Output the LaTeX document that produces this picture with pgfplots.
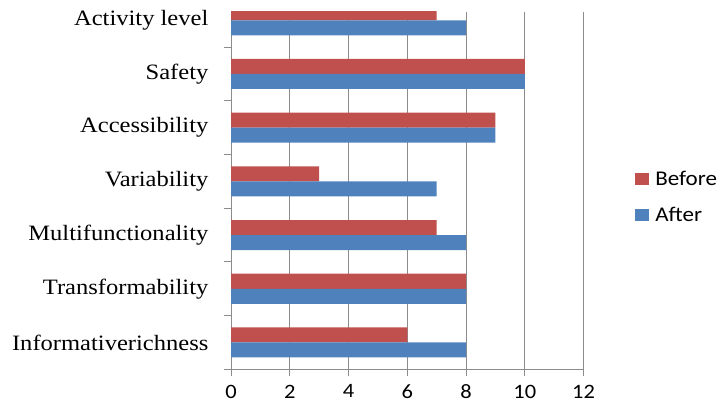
\documentclass[border=0pt]{standalone}
\usepackage{pgfplots}
\pgfplotsset{compat=1.18}
\usepackage{fontspec}
\setmainfont{Liberation Serif}
\newfontfamily\calib{Carlito}
\definecolor{bred}{HTML}{C0504D}
\definecolor{bblue}{HTML}{4F81BD}
\definecolor{gridg}{HTML}{8C8C8C}
\begin{document}
\begin{tikzpicture}
\useasboundingbox (0,0) rectangle (719bp,405bp);
\begin{axis}[
  at={(231bp,35.7bp)}, anchor=south west,
  scale only axis, width=352.5bp, height=357.3bp,
  xmin=0, xmax=12, ymin=-0.5, ymax=6.154,
  axis x line*=bottom, axis y line*=left,
  axis line style={gridg, line width=0.9bp, -},
  xtick={0,2,...,12},
  xmajorgrids, major grid style={gridg, line width=0.9bp},
  ytick={-0.5,0.5,...,5.5},
  yticklabels={},
  extra y ticks={0,...,6},
  extra y tick labels={Informativerichness,Transformability,Multifunctionality,Variability,Accessibility,Safety,Activity level},
  extra y tick style={major tick length=0pt, tick style={draw=none}},
  major tick length=7bp,
  tick style={gridg, line width=0.9bp},
  tick align=outside,
  yticklabel style={font=\fontsize{22}{24}\selectfont, xscale=1.12, inner xsep=0pt, xshift=-20bp, anchor=east},
  xticklabel style={font=\calib\fontsize{20.5}{22}\selectfont, xscale=1.1, anchor=north, yshift=-5bp},
  /pgf/number format/assume math mode=true,
  xbar, bar width=0.28,
  legend cell align=left,
  legend style={draw=none, fill=none, at={(1.146,0.4815)}, anchor=west,
    font=\calib\fontsize{21}{23}\selectfont, inner xsep=0pt, inner ysep=0pt,
    row sep=16bp, nodes={xscale=1.1},
    /tikz/every odd column/.append style={column sep=4bp}},
  legend image code/.code={\fill[#1] (0bp,-6bp) rectangle (14bp,6bp);},
]
\addplot[fill=bred, draw=none, bar shift=0.14] coordinates {
 (6,0) (8,1) (7,2) (3,3) (9,4) (10,5) (7,6)};
\addlegendentry{Before}
\addplot[fill=bblue, draw=none, bar shift=-0.14] coordinates {
 (8,0) (8,1) (8,2) (7,3) (9,4) (10,5) (8,6)};
\addlegendentry{After}
\end{axis}
\end{tikzpicture}
\end{document}
